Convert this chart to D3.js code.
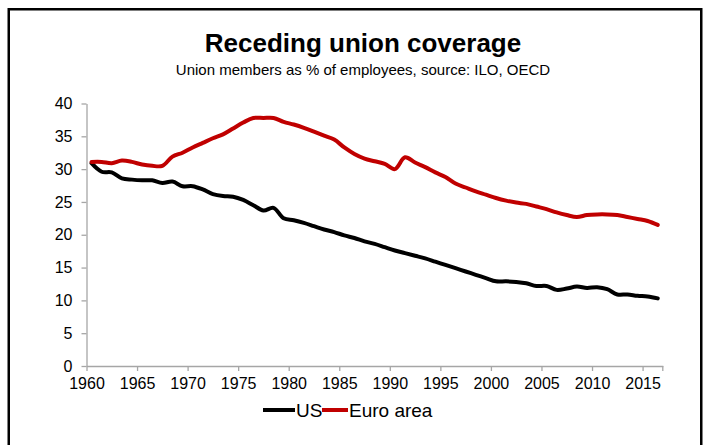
<!DOCTYPE html>
<html>
<head>
<meta charset="utf-8">
<script src="https://cdn.jsdelivr.net/npm/d3@7/dist/d3.min.js"></script>
<style>
html,body{margin:0;padding:0;background:#fff;}
svg{display:block;font-family:"Liberation Sans",Arial,sans-serif;}
</style>
</head>
<body>
<svg id="chart" width="703" height="445"></svg>
<script>
const years = d3.range(1960, 2017);
const usValues = [
  30.9, 29.6, 29.5, 28.6, 28.4, 28.3, 28.3, 27.9, 28.1, 27.4,
  27.4, 26.9, 26.2, 25.9, 25.8, 25.3, 24.5, 23.7, 24.1, 22.5,
  22.2, 21.8, 21.3, 20.8, 20.4, 19.9, 19.5, 19.0, 18.6, 18.1,
  17.6, 17.2, 16.8, 16.4, 15.9, 15.4, 14.9, 14.4, 13.9, 13.4,
  12.9, 12.9, 12.8, 12.6, 12.2, 12.2, 11.6, 11.8, 12.1, 11.9,
  12.0, 11.7, 10.9, 10.9, 10.7, 10.6, 10.3
];
const euroValues = [
  31.1, 31.1, 30.9, 31.3, 31.1, 30.7, 30.5, 30.5, 31.9, 32.5,
  33.3, 34.0, 34.7, 35.3, 36.2, 37.1, 37.8, 37.8, 37.8, 37.2,
  36.8, 36.3, 35.7, 35.1, 34.5, 33.3, 32.3, 31.6, 31.2, 30.8,
  30.0, 31.8, 31.0, 30.3, 29.5, 28.8, 27.8, 27.2, 26.6, 26.1,
  25.6, 25.2, 24.9, 24.7, 24.3, 23.9, 23.4, 23.0, 22.7, 23.0,
  23.1, 23.1, 23.0, 22.7, 22.4, 22.1, 21.5
];
const yTicks = [0, 5, 10, 15, 20, 25, 30, 35, 40];
const xTicks = [1960, 1965, 1970, 1975, 1980, 1985, 1990, 1995, 2000, 2005, 2010, 2015];
const seriesNames = ["US", "Euro area"];
const seriesColors = ["#000000", "#C00000"];
const titleText = "Receding union coverage";
const subtitleText = "Union members as % of employees, source: ILO, OECD";

const svg = d3.select("#chart");

// frame
svg.append("rect")
  .attr("x", 8.75).attr("y", 9.25)
  .attr("width", 692.5).attr("height", 460)
  .attr("fill", "none").attr("stroke", "#000").attr("stroke-width", 2.5);

const x = d3.scaleLinear().domain([1960, 2017]).range([86.5, 662.8]);
const y = d3.scaleLinear().domain([0, 40]).range([366, 103.5]);

const axisColor = "#a6a6a6";

const yAxis = svg.append("g")
  .attr("transform", "translate(86.5,0)")
  .call(d3.axisLeft(y).tickValues(yTicks).tickSize(5).tickPadding(9).tickSizeOuter(0));
const xAxis = svg.append("g")
  .attr("transform", "translate(0,366)")
  .call(d3.axisBottom(x).tickValues(xTicks).tickFormat(d3.format("d")).tickSize(5).tickPadding(7).tickSizeOuter(0));

[xAxis, yAxis].forEach(g => {
  g.select(".domain").attr("stroke", axisColor).attr("stroke-width", 1.3);
  g.selectAll(".tick line").attr("stroke", axisColor).attr("stroke-width", 1.3);
  g.selectAll(".tick text").attr("fill", "#000").style("font-size", "16px")
    .style("font-family", "'Liberation Sans', Arial, sans-serif");
});
// extra end tick at right of x axis
svg.append("line").attr("x1", x(2017)).attr("x2", x(2017)).attr("y1", 366).attr("y2", 371)
  .attr("stroke", axisColor).attr("stroke-width", 1.3);

const line = d3.line()
  .x((d, i) => x(years[i] + 0.5))
  .y(d => y(d))
  .curve(d3.curveCatmullRom.alpha(0.5));

[usValues, euroValues].forEach((vals, k) => {
  svg.append("path")
    .datum(vals)
    .attr("d", line)
    .attr("fill", "none")
    .attr("stroke", seriesColors[k])
    .attr("stroke-width", 4)
    .attr("stroke-linejoin", "round")
    .attr("stroke-linecap", "round");
});

// title
svg.append("text").attr("x", 363).attr("y", 52).attr("text-anchor", "middle")
  .style("font-size", "26px").style("font-weight", "bold").text(titleText);
svg.append("text").attr("x", 363).attr("y", 75).attr("text-anchor", "middle")
  .style("font-size", "15px").text(subtitleText);

// legend
const legendY = 410;
const legendItems = [
  {x0: 263, x1: 295, tx: 296},
  {x0: 322, x1: 348, tx: 349}
];
legendItems.forEach((it, k) => {
  svg.append("line").attr("x1", it.x0).attr("x2", it.x1).attr("y1", legendY).attr("y2", legendY)
    .attr("stroke", seriesColors[k]).attr("stroke-width", 4);
  svg.append("text").attr("x", it.tx).attr("y", legendY + 7)
    .style("font-size", "19px").text(seriesNames[k]);
});
</script>
</body>
</html>
